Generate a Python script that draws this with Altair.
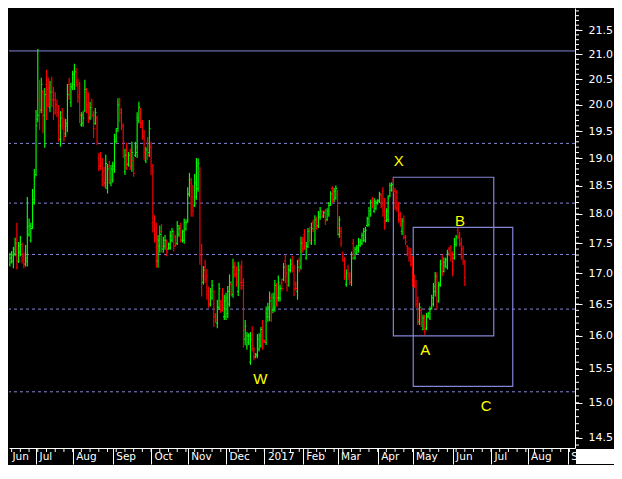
import altair as alt
import pandas as pd
import numpy as np

# ---- daily OHLC bars (weekday index 0 = 1 Jun 2016; first bar = index 2) ----
opens = [
 15.98,16.38,16.42,16.40,16.95,17.15,17.18,17.20,17.32,17.50,17.20,17.35,17.45,17.28,17.15,17.20,17.65,17.55,17.78,18.20,
 18.70,19.72,20.10,19.90,20.25,19.80,20.40,20.30,19.95,20.35,20.25,20.10,20.00,19.85,19.35,19.85,19.65,19.45,19.60,20.40,
 20.05,20.35,20.40,20.65,20.40,20.20,19.62,19.65,19.90,20.25,20.00,19.75,20.00,19.80,19.65,19.75,19.00,18.95,18.90,18.75,
 18.55,18.45,18.85,18.55,18.60,18.80,19.30,
 19.55,20.05,19.90,19.60,18.75,19.20,18.88,19.05,18.85,18.95,19.05,19.10,19.70,19.85,19.65,19.40,18.95,19.30,19.10,19.20,
 18.75,17.85,17.65,17.20,17.45,17.70,17.40,17.45,17.50,17.40,17.42,17.55,17.65,17.60,17.50,17.65,17.78,17.55,17.55,17.75,
 17.90,18.35,18.55,18.30,18.15,18.30,18.45,18.75,17.30,16.85,17.10,16.95,16.70,16.50,16.60,16.70,16.33,16.20,16.45,16.50,
 16.65,16.30,
 16.30,16.35,16.50,16.82,16.65,17.10,17.00,16.70,17.05,17.10,16.85,15.95,15.85,15.90,15.60,16.00,15.80,15.68,15.70,15.80,
 15.85,16.15,15.93,15.90,16.30,16.30,16.60,16.40,16.45,16.75,16.60,16.60,16.85,16.90,17.20,17.00,16.80,17.05,17.20,17.05,
 16.82,16.70,17.20,17.10,17.55,17.65,17.25,17.45,17.72,17.50,17.85,17.55,17.90,17.80,17.95,18.03,17.96,18.05,17.90,18.00,
 18.18,18.45,18.25,
 18.28,18.35,17.65,17.70,17.32,17.20,16.82,17.05,16.98,16.85,17.50,17.25,17.33,17.38,17.46,17.50,17.55,17.55,17.80,17.82,
 18.00,18.26,18.05,18.10,18.18,18.22,18.33,18.40,18.20,17.88,17.90,18.32,18.42,18.60,
 18.40,18.38,18.15,17.98,17.70,17.90,17.60,17.45,17.40,17.35,17.20,16.92,16.85,16.55,16.22,16.40,16.10,16.30,16.12,16.30,
 16.28,16.43,16.50,16.70,16.95,16.55,16.82,17.20,17.03,17.12,17.10,17.40,17.42,17.30,17.25,17.48,17.72,17.62,17.50,17.40,
 17.15,
]
highs = [
 16.47,16.52,16.46,17.07,17.31,17.34,17.37,17.44,17.59,17.85,17.52,17.62,17.51,17.34,17.47,18.30,17.92,17.85,18.44,18.80,
 19.90,21.11,20.49,20.53,20.29,20.33,20.69,20.53,20.47,20.55,20.35,20.25,20.10,20.00,19.88,19.94,19.75,19.73,20.41,20.53,
 20.43,20.67,20.81,20.73,20.51,20.45,19.86,19.88,20.49,20.33,20.24,20.06,20.12,19.88,19.94,19.79,19.09,19.11,19.00,18.84,
 19.06,18.89,18.95,18.87,18.93,19.45,19.56,
 20.13,20.14,19.94,19.65,19.17,19.28,19.11,19.17,19.30,19.02,19.30,19.86,20.06,19.94,19.71,19.52,19.21,19.39,19.71,19.30,
 18.89,17.98,17.85,17.64,17.80,17.83,17.61,17.64,17.56,17.51,17.71,17.76,17.73,17.64,17.88,17.81,17.85,17.73,17.92,17.90,
 18.47,18.73,18.64,18.51,18.71,19.00,18.99,18.84,17.49,17.12,17.22,17.07,16.78,16.76,16.89,16.73,16.36,16.57,16.84,16.57,
 16.76,16.65,
 16.68,16.79,16.98,16.87,17.24,17.19,17.11,17.19,17.14,17.21,16.92,16.25,16.06,16.04,16.06,16.15,15.83,15.74,16.03,16.04,
 16.14,16.25,15.94,16.46,16.52,16.70,16.67,16.68,16.89,16.84,16.96,16.81,16.91,17.17,17.31,17.14,17.14,17.24,17.29,17.14,
 16.87,17.22,17.26,17.61,17.61,17.74,17.52,17.76,17.78,17.85,17.90,17.98,17.95,18.05,18.12,18.07,18.05,18.09,18.10,18.21,
 18.40,18.49,18.46,
 18.50,18.42,17.96,17.78,17.36,17.27,17.06,17.14,17.02,17.36,17.57,17.44,17.47,17.59,17.57,17.68,17.76,17.78,17.95,18.12,
 18.25,18.30,18.28,18.25,18.26,18.39,18.37,18.47,18.28,18.10,18.33,18.55,18.56,18.64,
 18.46,18.42,18.21,18.04,17.93,17.98,17.64,17.47,17.44,17.42,17.28,16.98,16.89,16.62,16.52,16.44,16.33,16.33,16.36,16.38,
 16.46,16.65,16.84,17.02,17.01,16.86,17.22,17.31,17.26,17.26,17.39,17.44,17.47,17.36,17.59,17.64,17.76,17.69,17.59,17.46,
 17.22,
]
lows = [
 15.94,16.36,16.15,16.36,16.89,17.11,17.16,17.08,17.28,17.06,17.17,17.28,17.16,17.08,17.11,17.11,17.61,17.51,17.74,18.16,
 18.67,19.67,19.52,19.84,19.46,19.19,19.71,19.96,19.86,19.96,19.71,19.81,19.77,19.30,19.21,19.52,19.30,19.39,19.48,20.10,
 19.96,20.29,20.29,20.35,20.04,19.65,19.58,19.58,19.86,19.84,19.65,19.71,19.75,19.37,19.62,19.24,18.76,18.78,18.49,18.47,
 18.45,18.36,18.53,18.49,18.55,18.73,19.28,
 19.49,19.67,19.52,19.00,18.69,18.78,18.84,18.78,18.75,18.66,19.02,19.00,19.65,19.56,19.34,18.97,18.91,18.97,19.02,18.69,
 17.68,17.51,17.09,17.09,17.34,17.34,17.34,17.39,17.28,17.39,17.39,17.51,17.36,17.44,17.47,17.61,17.51,17.51,17.49,17.71,
 17.85,18.30,17.95,17.95,18.12,18.25,18.39,17.14,16.62,16.81,16.84,16.57,16.44,16.46,16.57,16.14,16.20,16.12,16.41,16.36,
 16.38,16.25,
 16.25,16.28,16.46,16.62,16.60,16.93,16.78,16.63,16.73,16.73,15.82,15.86,15.79,15.86,15.56,15.76,15.63,15.66,15.66,15.76,
 15.82,15.79,15.89,15.86,16.22,16.23,16.22,16.36,16.38,16.46,16.54,16.54,16.70,16.87,16.84,16.70,16.78,17.01,17.01,16.63,
 16.71,16.57,17.01,17.06,17.34,17.39,17.22,17.42,17.51,17.47,17.69,17.47,17.73,17.76,17.90,17.93,17.93,17.81,17.88,17.95,
 18.14,18.19,18.21,
 18.25,17.63,17.59,17.44,17.19,16.89,16.78,16.89,16.81,16.79,17.22,17.22,17.31,17.34,17.44,17.47,17.52,17.51,17.78,17.78,
 17.95,18.10,18.02,18.07,18.16,18.19,18.10,17.95,17.73,17.86,17.86,18.30,18.39,18.37,
 18.07,18.04,17.85,17.78,17.64,17.56,17.47,17.28,17.19,17.11,16.78,16.76,16.44,16.17,16.17,16.14,16.09,16.02,16.09,16.28,
 16.25,16.41,16.46,16.62,16.41,16.52,16.78,16.95,17.01,17.09,17.06,17.28,17.19,16.95,17.22,17.44,17.56,17.44,17.22,17.14,
 16.79,
]
closes = [
 16.40,16.46,16.35,16.95,17.15,17.25,17.30,17.40,17.50,17.10,17.45,17.48,17.22,17.15,17.25,17.78,17.80,17.75,18.25,18.65,
 19.60,19.80,19.90,20.40,19.90,20.20,20.00,20.10,20.25,20.10,19.85,19.90,19.85,19.60,19.75,19.60,19.40,19.65,20.20,20.20,
 20.35,20.60,20.65,20.45,20.15,19.80,19.80,19.75,20.30,19.95,19.80,19.95,19.80,19.55,19.85,19.30,18.85,18.85,18.60,18.55,
 18.90,18.80,18.60,18.80,18.85,19.35,19.50,
 20.00,19.85,19.58,19.30,19.05,18.90,19.05,18.85,19.10,18.72,19.20,19.75,19.95,19.65,19.40,19.10,19.15,19.05,19.55,18.85,
 17.85,17.60,17.45,17.55,17.65,17.45,17.55,17.55,17.35,17.48,17.62,17.70,17.45,17.48,17.80,17.75,17.55,17.70,17.85,17.85,
 18.35,18.60,18.10,18.05,18.55,18.85,18.90,17.30,16.95,17.05,16.90,16.65,16.50,16.70,16.80,16.30,16.25,16.45,16.75,16.40,
 16.45,16.55,
 16.60,16.70,16.85,16.68,17.10,16.98,16.85,17.05,16.85,16.80,16.10,16.15,16.00,16.00,15.95,15.85,15.68,15.72,15.95,16.00,
 16.10,15.90,15.90,16.35,16.45,16.55,16.35,16.60,16.80,16.55,16.85,16.75,16.75,17.10,16.95,16.80,17.05,17.15,17.05,16.75,
 16.75,17.10,17.05,17.50,17.40,17.45,17.45,17.70,17.55,17.75,17.75,17.90,17.78,18.00,18.05,17.97,18.02,17.88,18.05,18.15,
 18.35,18.25,18.40,
 18.45,17.75,17.90,17.50,17.22,16.95,17.00,16.95,16.85,17.25,17.30,17.40,17.42,17.52,17.54,17.63,17.70,17.72,17.92,18.05,
 18.20,18.15,18.22,18.20,18.24,18.35,18.15,18.05,17.85,18.05,18.28,18.50,18.52,18.42,
 18.12,18.10,17.90,17.82,17.88,17.60,17.52,17.32,17.25,17.15,16.85,16.80,16.50,16.25,16.45,16.20,16.28,16.10,16.32,16.35,
 16.42,16.60,16.78,16.95,16.55,16.80,17.15,17.00,17.18,17.22,17.33,17.30,17.24,17.05,17.52,17.60,17.60,17.48,17.28,17.20,
 16.93,
]
first_index = 2

# ---- annotation values ----
dashed_levels = [19.27, 18.19, 17.31, 16.42, 15.16]
solid_levels = [21.07]
box_k1 = [227.0, 238.4]
box_k2 = [284.6, 295.5]
box_low = [16.00, 15.24]
box_high = [18.65, 17.77]
wave_text = ["W", "X", "A", "B", "C"]
wave_k = [150.7, 230.1, 245.3, 265.2, 280.3]
wave_price = [15.35, 18.95, 15.78, 17.88, 14.96]

# ---- axis ticks ----
month_k = [6.483, 22, 43, 66, 88, 109, 131, 153, 175, 195, 218, 238, 261, 283, 304, 327]
month_names = ["Jun", "Jul", "Aug", "Sep", "Oct", "Nov", "Dec", "2017", "Feb", "Mar",
               "Apr", "May", "Jun", "Jul", "Aug", "S"]
week_k = list(range(8, 331, 5))
price_ticks = [14.5, 15.0, 15.5, 16.0, 16.5, 17.0, 17.5, 18.0, 18.5, 19.0, 19.5, 20.0, 20.5, 21.0, 21.5]
minor_price_ticks = [round(14.4 + 0.1 * i, 1) for i in range(76)]

W, H = 566, 440
TOTAL_W = 605
LINE = "#8484d8"
FONT = "Liberation Sans"
AXFONT = "DejaVu Sans"

xscale = alt.Scale(domain=[6.483, 331.21], nice=False, zero=False)
yscale = alt.Scale(type="log", domain=[14.359, 21.962], nice=False, zero=False)

label_expr = ("[" + ",".join(f"'{s}'" for s in month_names) + "][indexof(["
              + ",".join(str(v) for v in month_k) + "], datum.value)]")

xaxis = alt.Axis(values=month_k, labelExpr=label_expr, orient="bottom", title=None,
                 grid=False, domain=True, domainColor="white", domainWidth=1,
                 ticks=True, tickSize=16, tickWidth=1,
                 tickColor={"condition": {"test": "datum.value < 10", "value": "black"}, "value": "white"},
                 labelColor="white", labelFont=AXFONT, labelFontSize=10.5,
                 labelAlign="left", labelBaseline="middle", labelPadding=-8, labelOffset=3,
                 labelFlush=False, labelOverlap=False, labelBound=False)
yaxis = alt.Axis(values=price_ticks, format=".1f", orient="right", title=None, grid=False,
                 domain=True, domainColor="white", domainWidth=1,
                 ticks=True, tickSize=7, tickColor="white", tickWidth=1,
                 labelColor="white", labelFont=AXFONT, labelFontSize=11,
                 labelAlign="left", labelBaseline="middle", labelPadding=6,
                 labelFlush=False, labelOverlap=False)


def X(f):
    return alt.X(f, type="quantitative", scale=xscale, axis=xaxis)


def Y(f):
    return alt.Y(f, type="quantitative", scale=yscale, axis=yaxis)


n = len(opens)
k = np.arange(first_index, first_index + n)
bars = pd.DataFrame({"k": k, "o": opens, "h": highs, "l": lows, "c": closes})
bars["col"] = np.where(bars["c"] >= bars["o"], "#00ff00", "#ff0000")
bars["kl"] = bars["k"] - 0.7
bars["kr"] = bars["k"] + 0.7

hl = alt.Chart(bars).mark_rule(strokeWidth=1.15, clip=True).encode(
    x=X("k"), y=Y("l"), y2="h", color=alt.Color("col:N", scale=None))
op = alt.Chart(bars).mark_rule(strokeWidth=1, clip=True).encode(
    x=X("kl"), x2="k", y=Y("o"), color=alt.Color("col:N", scale=None))
cl = alt.Chart(bars).mark_rule(strokeWidth=1, clip=True).encode(
    x=X("k"), x2="kr", y=Y("c"), color=alt.Color("col:N", scale=None))

dashed = alt.Chart(pd.DataFrame({"p": dashed_levels})).mark_rule(
    color=LINE, strokeWidth=1, strokeDash=[3, 3]).encode(y=Y("p"))
solid = alt.Chart(pd.DataFrame({"p": solid_levels})).mark_rule(
    color=LINE, strokeWidth=1).encode(y=Y("p"))

boxes = alt.Chart(pd.DataFrame({"k1": box_k1, "k2": box_k2, "lo": box_low, "hi": box_high})).mark_rect(
    fillOpacity=0, stroke=LINE, strokeWidth=1.2).encode(x=X("k1"), x2="k2", y=Y("lo"), y2="hi")

waves = alt.Chart(pd.DataFrame({"t": wave_text, "k": wave_k, "p": wave_price})).mark_text(
    color="#ffff00", font=FONT, fontSize=15, align="center", baseline="middle").encode(
    x=X("k"), y=Y("p"), text="t:N")

yminor = alt.Chart(pd.DataFrame({"p": minor_price_ticks})).mark_rule(
    color="white", strokeWidth=1, clip=False).encode(
    y=Y("p"), x=alt.value(W), x2=alt.value(W + 4))
xminor = alt.Chart(pd.DataFrame({"k": week_k})).mark_rule(
    color="white", strokeWidth=1, clip=False).encode(
    x=X("k"), y=alt.value(H), y2=alt.value(H + 4))

corner = alt.Chart(pd.DataFrame({"a": [0]})).mark_rect(color="white", clip=False).encode(
    x=alt.value(W + 1), x2=alt.value(TOTAL_W), y=alt.value(H + 1), y2=alt.value(H + 16))

chart = alt.layer(dashed, solid, boxes, hl, op, cl, waves, yminor, xminor, corner).properties(
    width=W, height=H, padding=0, background="black"
).configure_view(strokeWidth=0)

chart.save("out.html", embed_options={"renderer": "svg", "actions": False})
